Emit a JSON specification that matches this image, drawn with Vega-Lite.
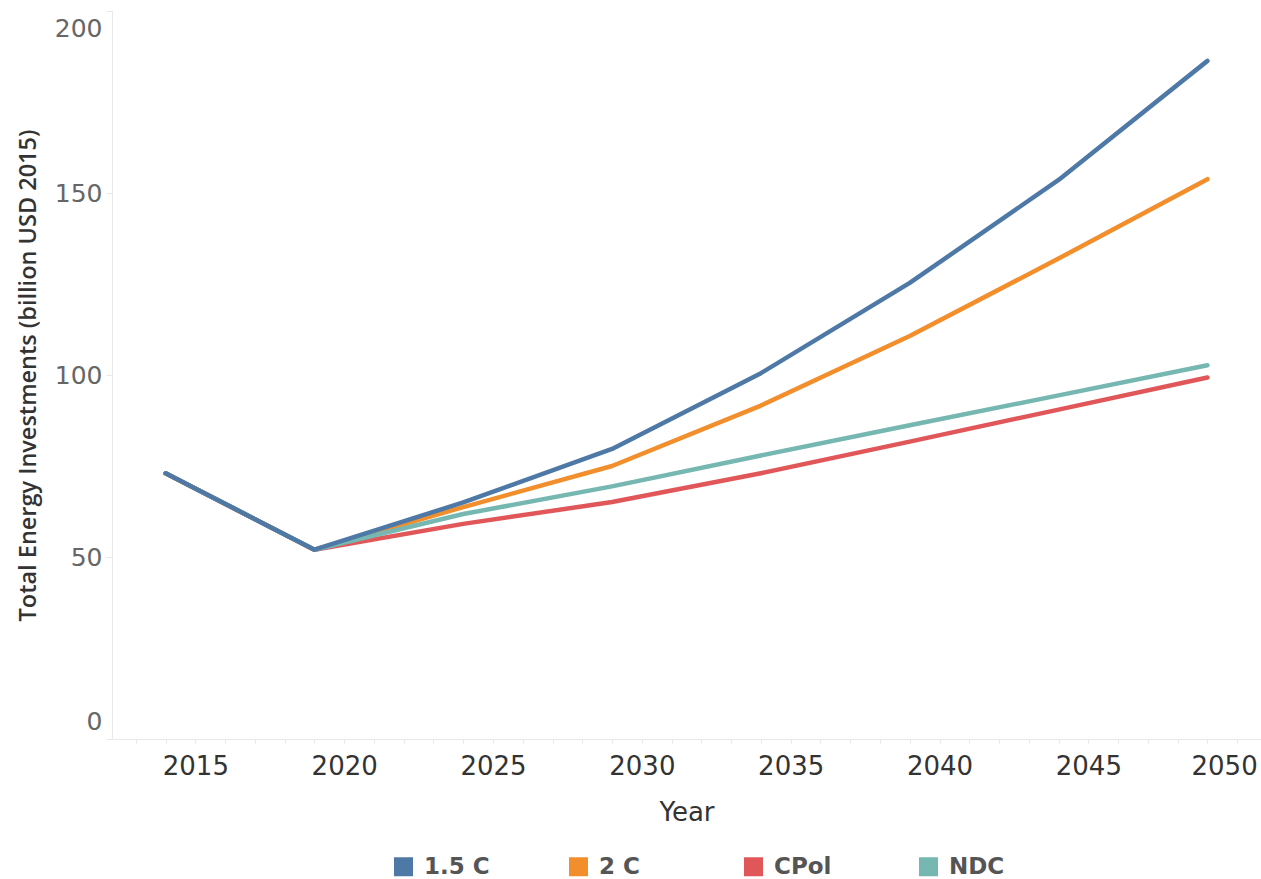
{
  "$schema": "https://vega.github.io/schema/vega-lite/v6.json",
  "autosize": {"type": "none"},
  "padding": {"left": 112, "top": 11, "right": 0, "bottom": 140},
  "width": 1149,
  "height": 728,
  "background": "white",
  "config": {
    "view": {"stroke": null},
    "font": "DejaVu Sans"
  },
  "data": {
    "values": [
      {"Year": 2014, "Scenario": "1.5 C", "Value": 73},
      {"Year": 2019, "Scenario": "1.5 C", "Value": 52},
      {"Year": 2024, "Scenario": "1.5 C", "Value": 65},
      {"Year": 2029, "Scenario": "1.5 C", "Value": 79.7},
      {"Year": 2034, "Scenario": "1.5 C", "Value": 100.5},
      {"Year": 2039, "Scenario": "1.5 C", "Value": 125.3},
      {"Year": 2044, "Scenario": "1.5 C", "Value": 153.6},
      {"Year": 2049, "Scenario": "1.5 C", "Value": 186.3},
      {"Year": 2014, "Scenario": "2 C", "Value": 73},
      {"Year": 2019, "Scenario": "2 C", "Value": 52},
      {"Year": 2024, "Scenario": "2 C", "Value": 63.7},
      {"Year": 2029, "Scenario": "2 C", "Value": 75},
      {"Year": 2034, "Scenario": "2 C", "Value": 91.6},
      {"Year": 2039, "Scenario": "2 C", "Value": 110.7},
      {"Year": 2044, "Scenario": "2 C", "Value": 132},
      {"Year": 2049, "Scenario": "2 C", "Value": 153.8},
      {"Year": 2014, "Scenario": "CPol", "Value": 73},
      {"Year": 2019, "Scenario": "CPol", "Value": 52},
      {"Year": 2024, "Scenario": "CPol", "Value": 59.1},
      {"Year": 2029, "Scenario": "CPol", "Value": 65.1},
      {"Year": 2034, "Scenario": "CPol", "Value": 73},
      {"Year": 2039, "Scenario": "CPol", "Value": 81.7},
      {"Year": 2044, "Scenario": "CPol", "Value": 90.5},
      {"Year": 2049, "Scenario": "CPol", "Value": 99.3},
      {"Year": 2014, "Scenario": "NDC", "Value": 73},
      {"Year": 2019, "Scenario": "NDC", "Value": 52},
      {"Year": 2024, "Scenario": "NDC", "Value": 61.8},
      {"Year": 2029, "Scenario": "NDC", "Value": 69.4},
      {"Year": 2034, "Scenario": "NDC", "Value": 77.9},
      {"Year": 2039, "Scenario": "NDC", "Value": 86.2},
      {"Year": 2044, "Scenario": "NDC", "Value": 94.4},
      {"Year": 2049, "Scenario": "NDC", "Value": 102.7}
    ]
  },
  "encoding": {
    "x": {
      "field": "Year",
      "type": "quantitative",
      "scale": {"domain": [2012.2, 2050.8], "nice": false, "zero": false},
      "axis": {
        "values": [2013, 2014, 2015, 2016, 2017, 2018, 2019, 2020, 2021, 2022, 2023, 2024, 2025, 2026, 2027, 2028, 2029, 2030, 2031, 2032, 2033, 2034, 2035, 2036, 2037, 2038, 2039, 2040, 2041, 2042, 2043, 2044, 2045, 2046, 2047, 2048, 2049, 2050],
        "labelExpr": "datum.value % 5 == 0 ? format(datum.value, 'd') : ''",
        "grid": false,
        "domainColor": "#e8e8e8",
        "domainWidth": 1,
        "tickColor": "#e8e8e8",
        "tickSize": 4,
        "labelFont": "DejaVu Sans",
        "labelFontSize": 26,
        "labelColor": "#333333",
        "labelPadding": 10,
        "labelOverlap": false,
        "labelFlush": 30,
        "labelFlushOffset": 20,
        "title": "Year",
        "titleFont": "DejaVu Sans",
        "titleFontSize": 26,
        "titleFontWeight": "normal",
        "titleColor": "#333333",
        "titlePadding": 20
      }
    },
    "y": {
      "field": "Value",
      "type": "quantitative",
      "scale": {"domain": [0, 200], "nice": false},
      "axis": {
        "values": [0, 50, 100, 150, 200],
        "grid": false,
        "domainColor": "#e8e8e8",
        "domainWidth": 1,
        "tickColor": "#e8e8e8",
        "tickSize": 6,
        "labelFont": "DejaVu Sans",
        "labelFontSize": 25,
        "labelColor": "#666666",
        "labelPadding": 4,
        "labelFlush": true,
        "labelFlushOffset": -5,
        "title": "Total Energy Investments (billion USD 2015)",
        "titleFont": "Open Sans",
        "titleFontSize": 23.5,
        "titleFontWeight": 600,
        "titleColor": "#333333",
        "titlePadding": 14
      }
    },
    "color": {
      "field": "Scenario",
      "type": "nominal",
      "scale": {
        "domain": ["1.5 C", "2 C", "CPol", "NDC"],
        "range": ["#4e79a7", "#f28e2b", "#e15759", "#76b7b2"]
      },
      "legend": {
        "title": null,
        "orient": "none",
        "direction": "horizontal",
        "columns": 4,
        "gridAlign": "all",
        "legendX": 280,
        "legendY": 844,
        "symbolType": "square",
        "symbolSize": 4,
        "symbolStrokeWidth": 17,
        "symbolOpacity": 1,
        "labelFont": "DejaVu Sans",
        "labelFontSize": 23,
        "labelFontWeight": "bold",
        "labelColor": "#555555",
        "labelOffset": 9,
        "columnPadding": 53
      }
    }
  },
  "layer": [
    {
      "transform": [{"filter": "datum.Scenario != '1.5 C'"}],
      "mark": {"type": "line", "strokeWidth": 4.5, "strokeCap": "round", "strokeJoin": "round"}
    },
    {
      "transform": [{"filter": "datum.Scenario == '1.5 C'"}],
      "mark": {"type": "line", "strokeWidth": 4.5, "strokeCap": "round", "strokeJoin": "round"}
    }
  ]
}
